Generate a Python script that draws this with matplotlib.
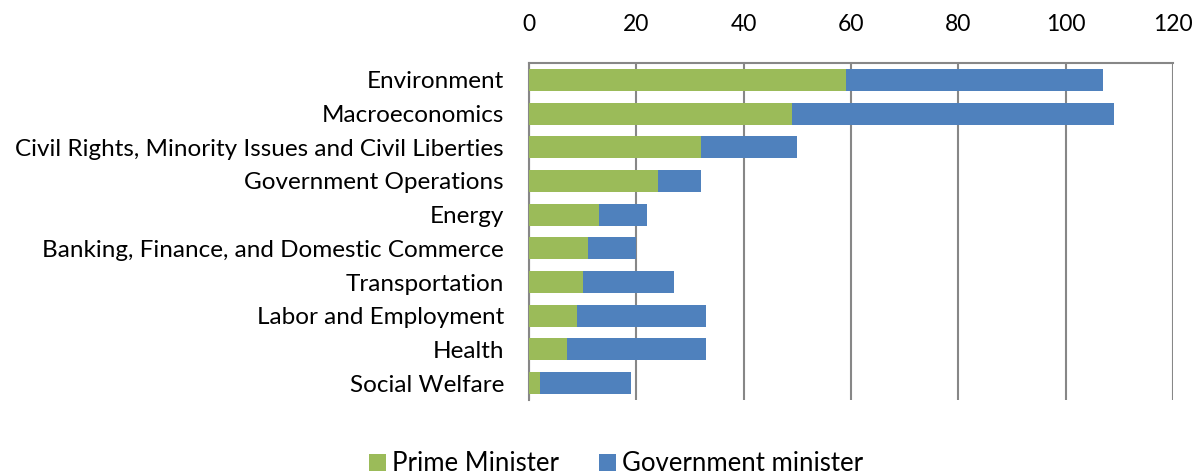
import matplotlib
matplotlib.use("Agg")
import matplotlib.pyplot as plt
import numpy as np

categories = ["Environment", "Macroeconomics",
              "Civil Rights, Minority Issues and Civil Liberties",
              "Government Operations", "Energy",
              "Banking, Finance, and Domestic Commerce", "Transportation",
              "Labor and Employment", "Health", "Social Welfare"]
prime_minister = [59, 49, 32, 24, 13, 11, 10, 9, 7, 2]
government_minister = [48, 60, 18, 8, 9, 9, 17, 24, 26, 17]
xticks = [0, 20, 40, 60, 80, 100, 120]

plt.rcParams['font.family'] = ['Lato', 'DejaVu Sans']
green = "#9BBB59"
blue = "#4F81BD"
grid = "#878787"

fig = plt.figure(figsize=(11.97, 4.71), dpi=100)
ax = fig.add_axes([0.442, 0.151, 0.538, 0.715])

y = np.arange(len(categories))
pm = np.array(prime_minister)
gm = np.array(government_minister)
ax.barh(y, pm, height=0.65, color=green, label="Prime Minister", zorder=3)
ax.barh(y, gm, left=pm, height=0.65, color=blue, label="Government minister", zorder=3)

ax.set_ylim(len(categories) - 0.5, -0.5)
ax.set_xlim(0, 120)
ax.set_yticks(y)
ax.set_yticklabels(categories, fontsize=17.5)
ax.set_xticks(xticks)
ax.set_xticklabels([str(t) for t in xticks], fontsize=16.5)
ax.xaxis.tick_top()
ax.tick_params(axis='y', length=0, pad=18)
ax.tick_params(axis='x', length=0, pad=20)
ax.grid(axis='x', color=grid, linewidth=1.5, zorder=0)
for s in ['right', 'bottom']:
    ax.spines[s].set_visible(False)
for s in ['left', 'top']:
    ax.spines[s].set_color(grid)
    ax.spines[s].set_linewidth(1.5)

fig.legend(loc='lower center', bbox_to_anchor=(0.5146, -0.06), ncol=2, frameon=False,
           fontsize=18.5, handlelength=0.65, handleheight=0.65, columnspacing=1.55,
           handletextpad=0.25)

fig.savefig("out.png", dpi=100)
